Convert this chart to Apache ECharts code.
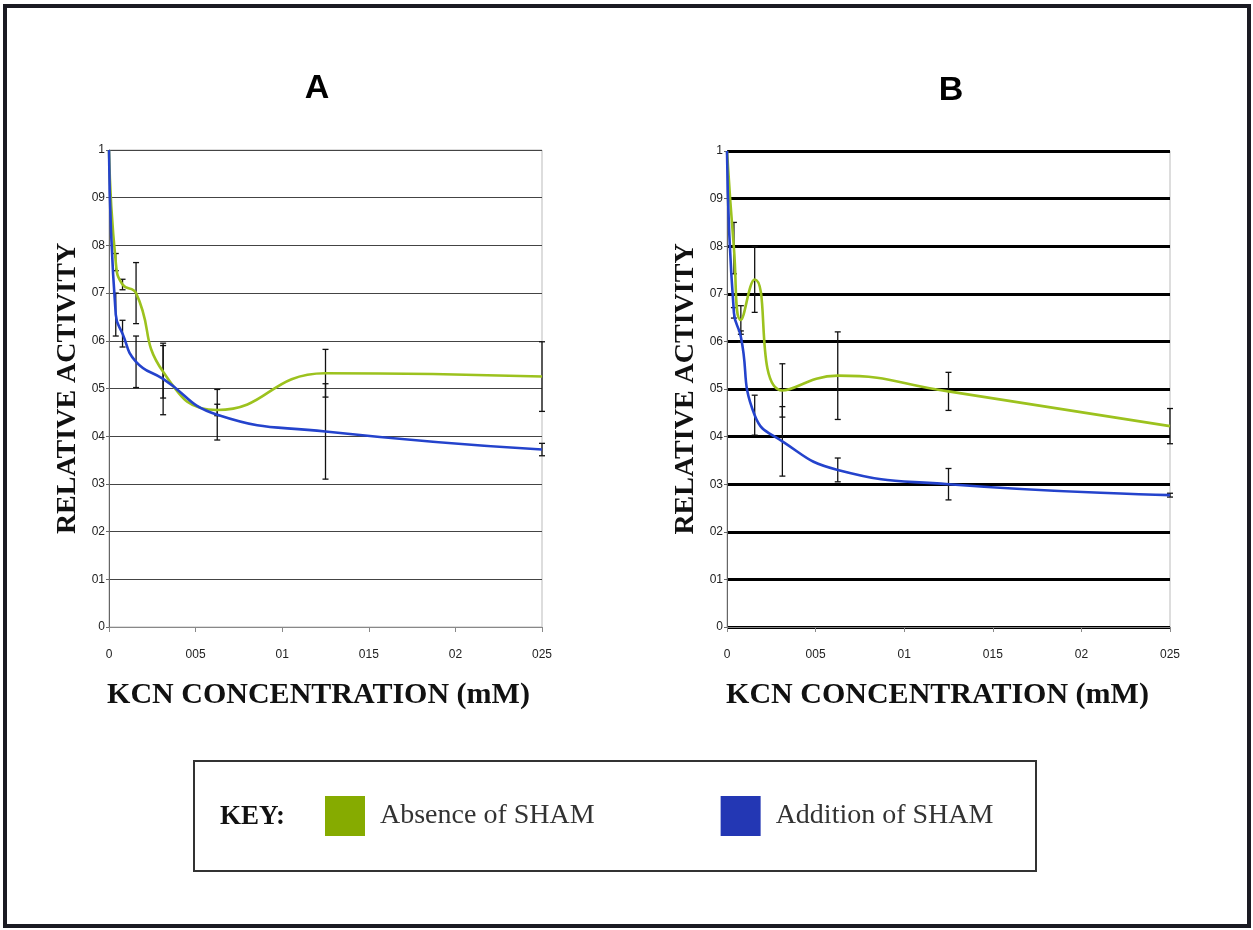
<!DOCTYPE html>
<html>
<head>
<meta charset="utf-8">
<title>Relative activity vs KCN concentration</title>
<script src="https://cdn.jsdelivr.net/npm/echarts@6/dist/echarts.min.js"></script>
<style>
html, body { margin: 0; padding: 0; background: #fff; }
#main { width: 1253px; height: 930px; }
</style>
</head>
<body>
<div id="main"></div>
<script>
// KCN concentrations (mM), doubling dilution series
var kcn = [0, 0.00390625, 0.0078125, 0.015625, 0.03125, 0.0625, 0.125, 0.25];

// panel A
var aAbsence     = [1, 0.765, 0.718, 0.700, 0.535, 0.455, 0.532, 0.525];
var aAbsenceErr  = [0, 0.018, 0.011, 0.064, 0.055, 0.012, 0.050, 0.073];
var aAddition    = [1, 0.655, 0.615, 0.556, 0.520, 0.445, 0.410, 0.372];
var aAdditionErr = [0, 0.045, 0.028, 0.054, 0.075, 0.053, 0.100, 0.013];

// panel B
var bAbsence     = [1, 0.796, 0.645, 0.730, 0.497, 0.528, 0.495, 0.422];
var bAbsenceErr  = [0, 0.054, 0.030, 0.069, 0.056, 0.092, 0.040, 0.037];
var bAddition    = [1, 0.660, 0.610, 0.445, 0.390, 0.330, 0.300, 0.277];
var bAdditionErr = [0, 0.011, 0.012, 0.042, 0.073, 0.025, 0.033, 0.004];

// tick labels as printed (decimal points lost)
var xTicks = ['0', '005', '01', '015', '02', '025'];
var yTicks = ['0', '01', '02', '03', '04', '05', '06', '07', '08', '09', '1'];

var GREEN = '#9cc21e', BLUE = '#2443cc';
var GREEN_KEY = '#86ab00', BLUE_KEY = '#2337b4';

function pairs(vals) {
    return kcn.map(function (x, i) { return [x, vals[i]]; });
}

function errData(vals, errs) {
    var out = [];
    kcn.forEach(function (x, i) {
        if (errs[i] > 0) out.push([x, vals[i] - errs[i], vals[i] + errs[i]]);
    });
    return out;
}

function lineSeries(name, idx, vals, color, keyColor) {
    return {
        type: 'line', name: name, xAxisIndex: idx, yAxisIndex: idx,
        data: pairs(vals), smooth: true, symbol: 'none', z: 4,
        lineStyle: { width: 2.6, color: color },
        itemStyle: { color: keyColor }
    };
}

function errSeries(idx, vals, errs) {
    return {
        type: 'custom', name: 'err', xAxisIndex: idx, yAxisIndex: idx, z: 3, silent: true,
        data: errData(vals, errs),
        encode: { x: 0, y: [1, 2] },
        renderItem: function (params, api) {
            var lo = api.coord([api.value(0), api.value(1)]);
            var hi = api.coord([api.value(0), api.value(2)]);
            var w = 3;
            var st = { stroke: '#111', lineWidth: 1.3 };
            return {
                type: 'group', children: [
                    { type: 'line', shape: { x1: lo[0], y1: lo[1], x2: hi[0], y2: hi[1] }, style: st },
                    { type: 'line', shape: { x1: lo[0] - w, y1: lo[1], x2: lo[0] + w, y2: lo[1] }, style: st },
                    { type: 'line', shape: { x1: hi[0] - w, y1: hi[1], x2: hi[0] + w, y2: hi[1] }, style: st }
                ]
            };
        }
    };
}

function makeX(idx, shift) {
    return {
        type: 'value', gridIndex: idx, min: 0, max: 0.25, interval: 0.05,
        name: 'KCN CONCENTRATION (mM)', nameLocation: 'middle', nameGap: 53,
        nameTextStyle: { fontFamily: 'Liberation Serif', fontWeight: 'bold', fontSize: 30, color: '#111',
                         padding: [0, shift, 0, 0] },
        axisLine: { lineStyle: { color: '#888', width: 1 } },
        axisTick: { show: true, length: 5, lineStyle: { color: '#888' } },
        axisLabel: {
            formatter: function (v, i) { return xTicks[i]; },
            fontFamily: 'Liberation Sans', fontSize: 12, color: '#222', margin: 22
        },
        splitLine: { show: false }
    };
}

function makeY(idx, gridColor, gridWidth) {
    return {
        type: 'value', gridIndex: idx, min: 0, max: 1, interval: 0.1,
        name: 'RELATIVE ACTIVITY', nameLocation: 'middle', nameRotate: 90, nameGap: 27,
        nameTextStyle: { fontFamily: 'Liberation Serif', fontWeight: 'bold', fontSize: 28, color: '#111' },
        axisLine: { show: true, lineStyle: { color: '#666', width: 1 } },
        axisTick: { show: true, length: 3, lineStyle: { color: '#666' } },
        axisLabel: {
            formatter: function (v, i) { return yTicks[i]; },
            fontFamily: 'Liberation Sans', fontSize: 12, color: '#222', margin: 4
        },
        splitLine: { show: true, lineStyle: { color: gridColor, width: gridWidth } }
    };
}

var chart = echarts.init(document.getElementById('main'));
chart.setOption({
    backgroundColor: '#fff',
    animation: false,
    grid: [
        { left: 109, top: 150, width: 433, height: 477, show: true, borderColor: '#bbb', borderWidth: 1 },
        { left: 727, top: 151, width: 443, height: 476, show: true, borderColor: '#bbb', borderWidth: 1 }
    ],
    xAxis: [makeX(0, 14), makeX(1, 22)],
    yAxis: [makeY(0, '#444', 1), makeY(1, '#000', 3)],
    legend: {
        data: ['Absence of SHAM', 'Addition of SHAM'],
        left: 325, top: 796, padding: 0,
        icon: 'rect', itemWidth: 40, itemHeight: 40, itemGap: 126,
        textStyle: { fontFamily: 'Liberation Serif', fontSize: 28, color: '#333', padding: [8, 0, 0, 10] },
        selectedMode: false
    },
    graphic: [
        { type: 'rect', shape: { x: 5, y: 6, width: 1244, height: 920 },
          style: { fill: 'none', stroke: '#1a1a22', lineWidth: 4 }, z: 10 },
        { type: 'rect', shape: { x: 194, y: 761, width: 842, height: 110 },
          style: { fill: 'none', stroke: '#333', lineWidth: 2 }, z: 10 },
        { type: 'text', x: 317, y: 89, z: 10,
          style: { text: 'A', font: 'bold 34px "Liberation Sans"', fill: '#000', textAlign: 'center', textVerticalAlign: 'middle' } },
        { type: 'text', x: 951, y: 91, z: 10,
          style: { text: 'B', font: 'bold 34px "Liberation Sans"', fill: '#000', textAlign: 'center', textVerticalAlign: 'middle' } },
        { type: 'text', x: 220, y: 817, z: 10,
          style: { text: 'KEY:', font: 'bold 27px "Liberation Serif"', fill: '#111', textAlign: 'left', textVerticalAlign: 'middle' } }
    ],
    series: [
        errSeries(0, aAbsence, aAbsenceErr),
        errSeries(0, aAddition, aAdditionErr),
        lineSeries('Absence of SHAM', 0, aAbsence, GREEN, GREEN_KEY),
        lineSeries('Addition of SHAM', 0, aAddition, BLUE, BLUE_KEY),
        errSeries(1, bAbsence, bAbsenceErr),
        errSeries(1, bAddition, bAdditionErr),
        lineSeries('Absence of SHAM', 1, bAbsence, GREEN, GREEN_KEY),
        lineSeries('Addition of SHAM', 1, bAddition, BLUE, BLUE_KEY)
    ]
});
</script>
</body>
</html>
